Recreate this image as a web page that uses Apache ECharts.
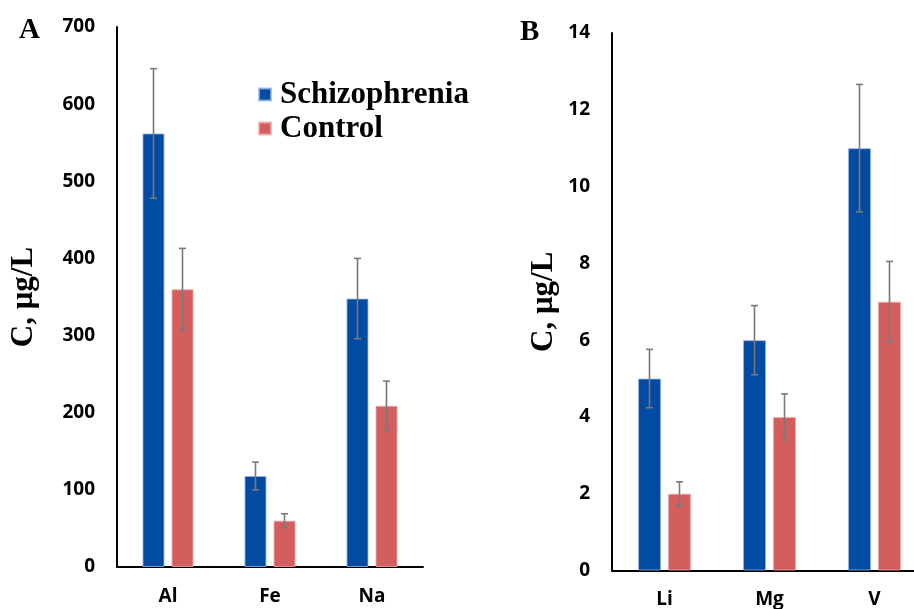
<!DOCTYPE html>
<html>
<head>
<meta charset="utf-8">
<script src="https://cdn.jsdelivr.net/npm/echarts@6/dist/echarts.min.js"></script>
<style>html,body{margin:0;padding:0;background:#fff}#c{width:914px;height:609px}</style>
</head>
<body>
<div id="c"></div>
<script>
const categoriesA = ['Al', 'Fe', 'Na'];
const schizoA = [562, 118, 348];
const schizoErrA = [84, 18, 52];
const controlA = [360, 60, 209];
const controlErrA = [53, 9, 32];

const categoriesB = ['Li', 'Mg', 'V'];
const schizoB = [5, 6, 11];
const schizoErrB = [0.76, 0.9, 1.66];
const controlB = [2, 4, 7];
const controlErrB = [0.31, 0.6, 1.05];

const yTicksA = { min: 0, max: 700, interval: 100 };
const yTicksB = { min: 0, max: 14, interval: 2 };

const seriesNames = ['Schizophrenia', 'Control'];
const yAxisTitle = 'C, μg/L';
const panelLabels = ['A', 'B'];

const BLUE = '#024BA2';
const RED = '#D35E5D';
const ERR = '#7a7a7a';

function errSeries(name, xIdx, values, errs, offset) {
  return {
    type: 'custom',
    name: name + ' err',
    xAxisIndex: xIdx, yAxisIndex: xIdx,
    z: 10,
    silent: true,
    data: values.map((v, i) => [i, v - errs[i], v + errs[i]]),
    renderItem: function (params, api) {
      const lo = api.coord([api.value(0), api.value(1)]);
      const hi = api.coord([api.value(0), api.value(2)]);
      const x = lo[0] + offset;
      const cap = 3.5;
      const st = { stroke: ERR, lineWidth: 1.6 };
      return {
        type: 'group',
        children: [
          { type: 'line', shape: { x1: x, y1: lo[1], x2: x, y2: hi[1] }, style: st },
          { type: 'line', shape: { x1: x - cap, y1: lo[1], x2: x + cap, y2: lo[1] }, style: st },
          { type: 'line', shape: { x1: x - cap, y1: hi[1], x2: x + cap, y2: hi[1] }, style: st }
        ]
      };
    }
  };
}

const tickLabel = { fontFamily: 'Open Sans', fontWeight: 'bold', fontSize: 19, color: '#000', margin: 22 };
const axisLineStyle = { show: true, lineStyle: { color: '#000', width: 2 } };
const yName = { fontFamily: 'Liberation Serif', fontWeight: 'bold', fontSize: 31, color: '#000' };

const chart = echarts.init(document.getElementById('c'), null, { renderer: 'canvas' });
chart.setOption({
  animation: false,
  backgroundColor: '#fff',
  title: [
    { text: panelLabels[0], left: 14, top: 11, textStyle: { fontFamily: 'Liberation Serif', fontWeight: 'bold', fontSize: 29, color: '#000' } },
    { text: panelLabels[1], left: 515, top: 13, textStyle: { fontFamily: 'Liberation Serif', fontWeight: 'bold', fontSize: 29, color: '#000' } }
  ],
  legend: {
    data: seriesNames,
    orient: 'vertical',
    left: 253, top: 74,
    itemWidth: 12, itemHeight: 12, itemGap: 3,
    icon: 'rect',
    textStyle: { fontFamily: 'Liberation Serif', fontWeight: 'bold', fontSize: 31, color: '#000', padding: [0, 0, 0, 4] }
  },
  grid: [
    { left: 117, top: 27, width: 306, height: 540, outerBoundsMode: 'none', containLabel: false },
    { left: 612, top: 33, width: 315, height: 537.5, outerBoundsMode: 'none', containLabel: false }
  ],
  xAxis: [
    { type: 'category', gridIndex: 0, data: categoriesA, axisLine: axisLineStyle, axisTick: { show: false }, axisLabel: Object.assign({}, tickLabel, { margin: 20 }) },
    { type: 'category', gridIndex: 1, data: categoriesB, axisLine: axisLineStyle, axisTick: { show: false }, axisLabel: Object.assign({}, tickLabel, { margin: 20 }) }
  ],
  yAxis: [
    { type: 'value', gridIndex: 0, min: yTicksA.min, max: yTicksA.max, interval: yTicksA.interval,
      axisLine: axisLineStyle, axisTick: { show: false }, splitLine: { show: false }, axisLabel: tickLabel,
      name: yAxisTitle, nameLocation: 'middle', nameRotate: 90, nameGap: 78, nameTextStyle: yName },
    { type: 'value', gridIndex: 1, min: yTicksB.min, max: yTicksB.max, interval: yTicksB.interval,
      axisLine: axisLineStyle, axisTick: { show: false }, splitLine: { show: false }, axisLabel: tickLabel,
      name: yAxisTitle, nameLocation: 'middle', nameRotate: 90, nameGap: 53, nameTextStyle: yName }
  ],
  series: [
    { type: 'bar', name: seriesNames[0], xAxisIndex: 0, yAxisIndex: 0, data: schizoA, barWidth: 22, barGap: '32%',
      itemStyle: { color: BLUE, borderColor: 'rgba(150,180,230,0.8)', borderWidth: 1 } },
    { type: 'bar', name: seriesNames[1], xAxisIndex: 0, yAxisIndex: 0, data: controlA, barWidth: 22, barGap: '32%',
      itemStyle: { color: RED, borderColor: 'rgba(240,170,170,0.8)', borderWidth: 1 } },
    { type: 'bar', name: seriesNames[0], xAxisIndex: 1, yAxisIndex: 1, data: schizoB, barWidth: 23, barGap: '30%',
      itemStyle: { color: BLUE, borderColor: 'rgba(150,180,230,0.8)', borderWidth: 1 } },
    { type: 'bar', name: seriesNames[1], xAxisIndex: 1, yAxisIndex: 1, data: controlB, barWidth: 23, barGap: '30%',
      itemStyle: { color: RED, borderColor: 'rgba(240,170,170,0.8)', borderWidth: 1 } },
    errSeries('s', 0, schizoA, schizoErrA, -14.5),
    errSeries('c', 0, controlA, controlErrA, 14.5),
    errSeries('s', 1, schizoB, schizoErrB, -15),
    errSeries('c', 1, controlB, controlErrB, 15)
  ]
});
</script>
</body>
</html>
